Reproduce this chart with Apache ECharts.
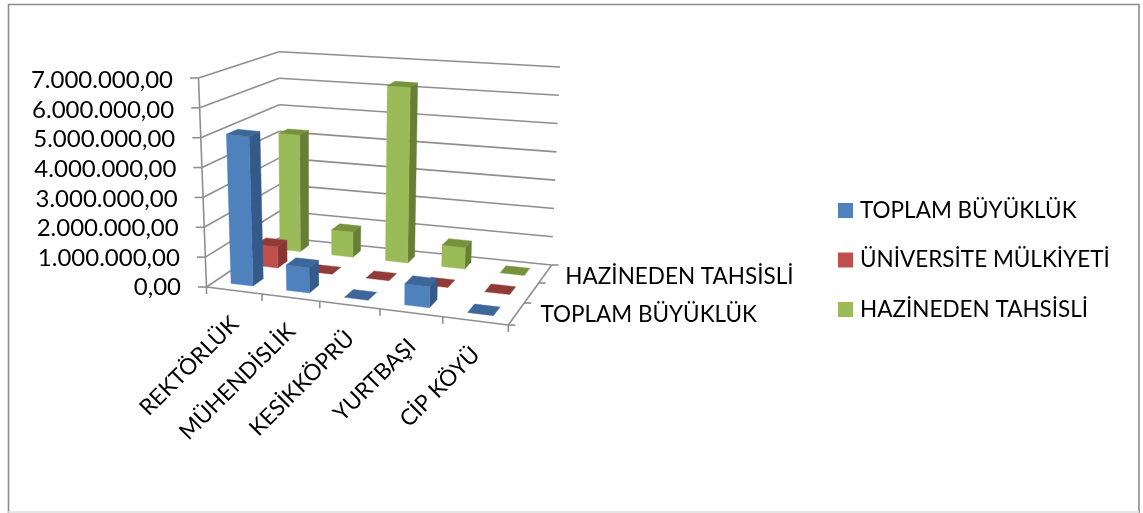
<!DOCTYPE html>
<html><head><meta charset="utf-8">
<style>html,body{margin:0;padding:0;background:#fff}#c{width:1143px;height:513px}</style>
<script src="https://cdn.jsdelivr.net/npm/echarts@6/dist/echarts.min.js"></script>
</head><body><div id="c"></div>
<script>
const categories = ['REKTÖRLÜK','MÜHENDİSLİK','KESİKKÖPRÜ','YURTBAŞI','CİP KÖYÜ'];
const seriesNames = ['TOPLAM BÜYÜKLÜK','ÜNİVERSİTE MÜLKİYETİ','HAZİNEDEN TAHSİSLİ'];
const depthLabels = ['TOPLAM BÜYÜKLÜK','HAZİNEDEN TAHSİSLİ'];
const toplam = [5050000, 850000, 0, 700000, 0];
const universite = [750000, 0, 0, 0, 0];
const hazineden = [4250000, 910000, 6270000, 760000, 0];
const yTicks = [0,1000000,2000000,3000000,4000000,5000000,6000000,7000000];

const FAMILY = 'Lato, "Open Sans", sans-serif';
const FS = 22.5;
const FONT = FS+'px '+FAMILY;
const CAT_FONT = '22.5px '+FAMILY;
const GRID = '#8f8f8f';
const faces = [
  {front:'#4F81BD', side:'#335a88', top:'#3d6798'},
  {front:'#C0504D', side:'#8a3634', top:'#913a38'},
  {front:'#9BBB59', side:'#667f35', top:'#76923c'}
];
// chart box: floor and ceiling quads, [front-left, front-right, back-right, back-left]
const floorQ = [[206.5,287],[508.3,325],[551.7,265],[280,237.5]];
const ceilQ  = [[198.5,78],[514.5,110],[560,67],[279,51.7]];
const warpU = u => u/(1+0.11*(1-u));
const warpD = d => d*(1+0.15*(1-d));
function bilinear(q,u,d){
  const a=[0,1].map(k=>q[0][k]+(q[1][k]-q[0][k])*u);
  const b=[0,1].map(k=>q[3][k]+(q[2][k]-q[3][k])*u);
  return [a[0]+(b[0]-a[0])*d,a[1]+(b[1]-a[1])*d];
}
function proj(u,d,w){
  const uu=warpU(u),dd=warpD(d);
  const f=bilinear(floorQ,uu,dd),c=bilinear(ceilQ,uu,dd);
  return [f[0]+(c[0]-f[0])*w,f[1]+(c[1]-f[1])*w];
}
function fractions(api,params,cat,val){
  const cs=params.coordSys,pt=api.coord([cat,val]);
  return {u:(pt[0]-cs.x)/cs.width,w:(cs.y+cs.height-pt[1])/cs.height};
}
const line=(a,b,lw)=>({type:'line',shape:{x1:a[0],y1:a[1],x2:b[0],y2:b[1]},style:{stroke:GRID,lineWidth:lw||1.6}});
const poly=(pts,fill)=>({type:'polygon',shape:{points:pts},style:{fill:fill,stroke:fill,lineWidth:0.4}});

function renderBar(row){
  return function(params,api){
    const cat=api.value(0),val=api.value(1);
    const base=fractions(api,params,cat,0),t=fractions(api,params,cat,val);
    const hw=0.2/categories.length,rows=seriesNames.length;
    const u0=base.u-hw,u1=base.u+hw,d0=(row+0.3)/rows,d1=(row+0.7)/rows,w=t.w;
    const pf=[proj(u0,d0,0),proj(u1,d0,0),proj(u1,d0,w),proj(u0,d0,w)];
    const ps=[proj(u1,d0,0),proj(u1,d1,0),proj(u1,d1,w),proj(u1,d0,w)];
    const pt=[proj(u0,d0,w),proj(u1,d0,w),proj(u1,d1,w),proj(u0,d1,w)];
    const c=faces[row],children=[];
    if(val>0){children.push(poly(ps,c.side),poly(pf,c.front));}
    children.push(poly(pt,c.top));
    return {type:'group',children:children};
  };
}
function renderFrame(params,api){
  const w=fractions(api,params,0,api.value(1)).w,ch=[];
  const a=proj(0,0,w),b=proj(0,1,w),c=proj(1,1,w);
  ch.push(line(a,b),line(b,c),line(a,[a[0]-8.5,a[1]]));
  return {type:'group',children:ch};
}
function renderFloor(params,api){
  const ch=[line(proj(0,0,0),proj(1,0,0)),line(proj(1,0,0),proj(1,1,0)),line(proj(0,0,0),proj(0,0,1))];
  for(let i=0;i<=categories.length;i++){
    const p=proj(i/categories.length,0,0);
    ch.push(line(p,[p[0],p[1]+7]));
  }
  for(let i=0;i<=seriesNames.length;i++){
    const p=proj(1,i/seriesNames.length,0);
    ch.push(line(p,[p[0]+7,p[1]]));
  }
  return {type:'group',children:ch};
}
function renderCatLabel(params,api){
  const i=api.value(0),f=fractions(api,params,i,0),p=proj(f.u,0,0);
  return {type:'text',x:p[0]+1,y:p[1]+30,rotation:Math.PI/4,
    style:{text:categories[i],align:'right',verticalAlign:'middle',font:CAT_FONT,fill:'#000'}};
}
function renderDepthLabel(params,api){
  const i=api.value(0),rowIdx=seriesNames.indexOf(depthLabels[i]);
  const r=rowIdx/(seriesNames.length-1);
  const p=proj(1,(rowIdx+0.5)/seriesNames.length,0);
  return {type:'text',x:p[0]+24-4*r,y:p[1]+1+2*r,
    style:{text:depthLabels[i],align:'left',verticalAlign:'middle',font:FONT,fill:'#000'}};
}
const fmt=v=>{
  const s=String(Math.round(v)).replace(/\B(?=(\d{3})+$)/g,'.');
  return s+',00';
};
const rich={};
yTicks.forEach((v,i)=>{rich['p'+i]={fontFamily:FAMILY,fontSize:24,color:'#000',padding:[3,i*8/7,0,0]};});

const base={type:'custom',coordinateSystem:'cartesian2d',clip:false,silent:true,animation:false};
const arrays=[toplam,universite,hazineden];
const barSeries=seriesNames.map((n,row)=>Object.assign({},base,{
  name:n,z:5+(seriesNames.length-row),
  itemStyle:{color:faces[row].front},
  encode:{x:0,y:1},
  renderItem:renderBar(row),
  data:arrays[row].map((v,i)=>[i,v])
}));

const chart=echarts.init(document.getElementById('c'),null,{renderer:'canvas'});
chart.setOption({
  animation:false,
  backgroundColor:'#fff',
  graphic:{elements:[
    {type:'line',z:0,shape:{x1:8.5,y1:4.5,x2:1139,y2:4.5},style:{stroke:'#8c8c8c',lineWidth:1.6}},
    {type:'line',z:0,shape:{x1:8.5,y1:4,x2:8.5,y2:513},style:{stroke:'#8c8c8c',lineWidth:1.6}},
    {type:'line',z:0,shape:{x1:1139,y1:4,x2:1139,y2:513},style:{stroke:'#8c8c8c',lineWidth:1.6}},
    {type:'line',z:0,shape:{x1:8,y1:512,x2:1139,y2:512},style:{stroke:'#dddddd',lineWidth:1.4}}
  ]},
  legend:{
    orient:'vertical',left:838,top:199,padding:0,itemWidth:15,itemHeight:15,itemGap:26.5,icon:'rect',
    data:seriesNames,selectedMode:false,
    textStyle:{fontFamily:FAMILY,fontSize:FS,color:'#000',padding:[0,0,0,2]}
  },
  grid:{left:186,top:79,width:300,height:207},
  xAxis:{type:'category',data:categories,show:false},
  yAxis:{type:'value',min:0,max:7000000,interval:1000000,
    axisLine:{show:false},axisTick:{show:false},splitLine:{show:false},
    axisLabel:{margin:5,align:'right',
      formatter:v=>`{p${yTicks.indexOf(v)}|${fmt(v)}}`,rich:rich}},
  series:[
    Object.assign({},base,{name:'frame',z:1,renderItem:renderFrame,encode:{x:0,y:1},data:yTicks.map(v=>[0,v])}),
    Object.assign({},base,{name:'floor',z:2,renderItem:renderFloor,encode:{x:0,y:1},data:[[0,0]]}),
    ...barSeries,
    Object.assign({},base,{name:'catLabels',z:3,renderItem:renderCatLabel,encode:{x:0,y:1},data:categories.map((c,i)=>[i,0])}),
    Object.assign({},base,{name:'depthLabels',z:3,renderItem:renderDepthLabel,encode:{x:0,y:1},data:depthLabels.map((c,i)=>[i,0])})
  ]
});
</script></body></html>
